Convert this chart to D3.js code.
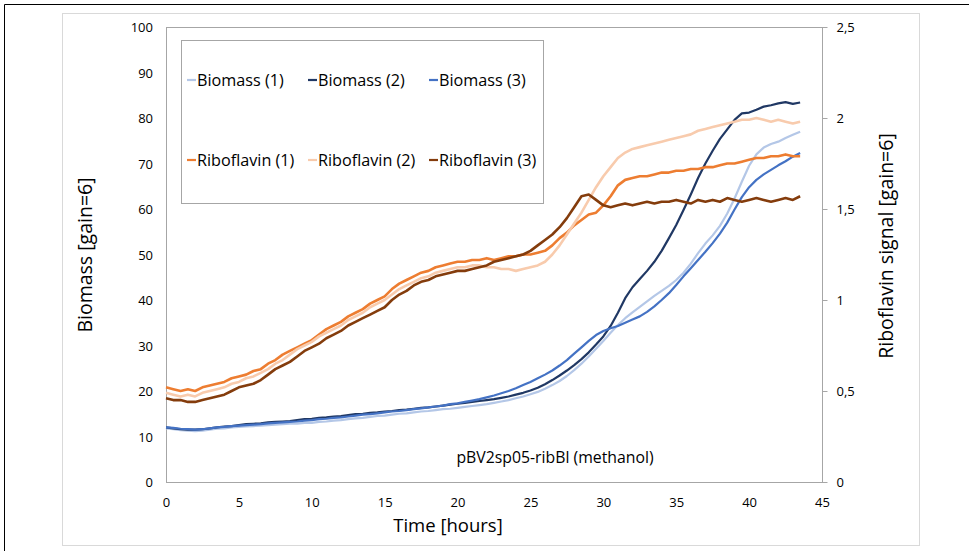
<!DOCTYPE html>
<html>
<head>
<meta charset="utf-8">
<script src="https://cdn.jsdelivr.net/npm/d3@7"></script>
<style>
  html, body { margin: 0; padding: 0; background: #fff; }
  svg { display: block; }
  text { font-family: "Open Sans", "Lato", sans-serif; fill: #000; }
</style>
</head>
<body>
<svg id="chart" width="969" height="551"></svg>
<script>
// Sampling times (hours)
const hours = [0,0.5,1,1.5,2,2.5,3,3.5,4,4.5,5,5.5,6,6.5,7,7.5,8,8.5,9,9.5,
  10,10.5,11,11.5,12,12.5,13,13.5,14,14.5,15,15.5,16,16.5,17,17.5,18,18.5,19,19.5,
  20,20.5,21,21.5,22,22.5,23,23.5,24,24.5,25,25.5,26,26.5,27,27.5,28,28.5,29,29.5,
  30,30.5,31,31.5,32,32.5,33,33.5,34,34.5,35,35.5,36,36.5,37,37.5,38,38.5,39,39.5,
  40,40.5,41,41.5,42,42.5,43,43.5];

// Biomass signal [gain=6], left axis
const biomass1 = [11.8,11.6,11.4,11.3,11.2,11.3,11.5,11.7,11.8,12.0,
  12.1,12.2,12.3,12.4,12.5,12.6,12.7,12.8,12.8,13.0,
  13.0,13.2,13.3,13.5,13.6,13.8,14.0,14.1,14.3,14.5,
  14.6,14.8,15.0,15.1,15.3,15.5,15.6,15.8,16.0,16.1,
  16.3,16.5,16.7,16.9,17.1,17.4,17.7,18.0,18.4,18.8,
  19.3,19.8,20.5,21.3,22.2,23.3,24.6,26.0,27.6,29.3,
  31.0,32.8,34.5,36.0,37.3,38.5,39.7,40.9,42.0,43.1,
  44.4,46.0,48.0,50.3,52.4,54.2,56.3,59.0,62.3,66.0,
  69.5,72.0,73.5,74.3,74.8,75.6,76.3,77.0];
const biomass2 = [12.0,11.8,11.6,11.5,11.5,11.6,11.8,12.0,12.2,12.3,
  12.5,12.7,12.8,12.9,13.1,13.2,13.3,13.4,13.6,13.8,
  13.9,14.1,14.2,14.4,14.5,14.7,14.9,15.0,15.2,15.3,
  15.5,15.6,15.8,15.9,16.1,16.3,16.4,16.6,16.8,17.0,
  17.2,17.4,17.6,17.8,18.0,18.2,18.5,18.8,19.2,19.6,
  20.1,20.7,21.5,22.4,23.4,24.5,25.7,27.0,28.5,30.2,
  32.0,34.3,37.2,40.4,42.8,44.6,46.4,48.4,50.8,53.6,
  56.5,59.8,63.2,66.8,70.0,72.8,75.4,77.5,79.6,81.0,
  81.2,81.8,82.5,82.8,83.2,83.5,83.1,83.4];
const biomass3 = [12.0,11.9,11.7,11.6,11.5,11.6,11.8,12.0,12.1,12.3,
  12.4,12.5,12.6,12.7,12.9,13.0,13.1,13.2,13.3,13.5,
  13.6,13.8,13.9,14.1,14.2,14.4,14.6,14.8,14.9,15.1,
  15.3,15.5,15.6,15.8,16.0,16.2,16.4,16.6,16.8,17.1,
  17.3,17.6,17.9,18.2,18.6,19.0,19.5,20.0,20.6,21.3,
  22.0,22.8,23.6,24.5,25.6,26.8,28.2,29.6,31.0,32.3,
  33.2,33.8,34.3,35.0,35.7,36.4,37.4,38.6,40.0,41.5,
  43.3,45.2,47.0,48.8,50.6,52.5,54.6,57.0,59.9,62.6,
  64.8,66.4,67.6,68.6,69.6,70.5,71.5,72.3];

// Riboflavin signal [gain=6], right axis
const riboflavin1 = [0.52,0.51,0.50,0.51,0.50,0.52,0.53,0.54,0.55,0.57,
  0.58,0.59,0.61,0.62,0.65,0.67,0.70,0.72,0.74,0.76,
  0.78,0.81,0.84,0.86,0.88,0.91,0.93,0.95,0.98,1.00,
  1.02,1.06,1.09,1.11,1.13,1.15,1.16,1.18,1.19,1.20,
  1.21,1.21,1.22,1.22,1.23,1.22,1.23,1.24,1.24,1.25,
  1.25,1.26,1.27,1.30,1.34,1.37,1.41,1.44,1.47,1.48,
  1.52,1.57,1.63,1.66,1.67,1.68,1.68,1.69,1.70,1.70,
  1.71,1.71,1.72,1.72,1.73,1.73,1.74,1.75,1.75,1.76,
  1.77,1.78,1.78,1.79,1.79,1.80,1.79,1.79];
const riboflavin2 = [0.49,0.48,0.47,0.48,0.47,0.49,0.50,0.51,0.52,0.54,
  0.55,0.57,0.58,0.60,0.62,0.65,0.67,0.70,0.73,0.75,
  0.77,0.80,0.82,0.84,0.86,0.89,0.91,0.93,0.96,0.98,
  1.00,1.03,1.06,1.08,1.10,1.12,1.13,1.15,1.16,1.17,
  1.18,1.18,1.19,1.19,1.18,1.18,1.17,1.17,1.16,1.17,
  1.18,1.19,1.21,1.25,1.30,1.36,1.42,1.48,1.55,1.62,
  1.68,1.73,1.78,1.81,1.83,1.84,1.85,1.86,1.87,1.88,
  1.89,1.90,1.91,1.93,1.94,1.95,1.96,1.97,1.98,1.99,
  1.99,2.00,1.99,1.98,1.99,1.98,1.97,1.98];
const riboflavin3 = [0.46,0.45,0.45,0.44,0.44,0.45,0.46,0.47,0.48,0.50,
  0.52,0.53,0.54,0.56,0.59,0.62,0.64,0.66,0.69,0.72,
  0.74,0.76,0.79,0.81,0.83,0.86,0.88,0.90,0.92,0.94,
  0.96,1.00,1.03,1.05,1.08,1.10,1.11,1.13,1.14,1.15,
  1.16,1.16,1.17,1.18,1.19,1.21,1.22,1.23,1.24,1.25,
  1.27,1.30,1.33,1.36,1.40,1.45,1.51,1.57,1.58,1.55,
  1.52,1.51,1.52,1.53,1.52,1.53,1.54,1.53,1.54,1.54,
  1.55,1.54,1.53,1.55,1.54,1.55,1.54,1.56,1.55,1.54,
  1.55,1.56,1.55,1.54,1.55,1.56,1.55,1.57];

const seriesNames = ["Biomass (1)", "Biomass (2)", "Biomass (3)",
                     "Riboflavin (1)", "Riboflavin (2)", "Riboflavin (3)"];
const seriesColors = ["#B4C7E7", "#203864", "#4472C4", "#ED7D31", "#F8CBAD", "#843C0C"];
const xTicks = [0,5,10,15,20,25,30,35,40,45];
const leftTicks = [0,10,20,30,40,50,60,70,80,90,100];
const rightTicks = [0,0.5,1,1.5,2,2.5];
const rightTickLabels = ["0","0,5","1","1,5","2","2,5"];
const annotation = "pBV2sp05-ribBl (methanol)";

const svg = d3.select("#chart");

// chart frames
svg.append("rect").attr("x", 62.5).attr("y", 13.5).attr("width", 857).attr("height", 532)
  .attr("fill", "none").attr("stroke", "#d9d9d9").attr("stroke-width", 1);
svg.append("path").attr("d", "M4.5,551 V4.5 H969").attr("fill", "none")
  .attr("stroke", "#000").attr("stroke-width", 1);

const plot = { left: 166, right: 822, top: 27, bottom: 482 };
const x = d3.scaleLinear().domain([0, 45]).range([plot.left, plot.right]);
const yL = d3.scaleLinear().domain([0, 100]).range([plot.bottom, plot.top]);
const yR = d3.scaleLinear().domain([0, 2.5]).range([plot.bottom, plot.top]);

// plot area border
svg.append("rect").attr("x", plot.left + 0.5).attr("y", plot.top + 0.5)
  .attr("width", plot.right - plot.left).attr("height", plot.bottom - plot.top)
  .attr("fill", "none").attr("stroke", "#a6a6a6").attr("stroke-width", 1);

// axes
const gx = svg.append("g").attr("transform", `translate(0,${plot.bottom})`)
  .call(d3.axisBottom(x).tickValues(xTicks).tickSize(0).tickPadding(16).tickFormat(d3.format("d")));
const gl = svg.append("g").attr("transform", `translate(${plot.left},0)`)
  .call(d3.axisLeft(yL).tickValues(leftTicks).tickSize(0).tickPadding(13));
const gr = svg.append("g").attr("transform", `translate(${plot.right + 0.5},0)`)
  .call(d3.axisRight(yR).tickValues(rightTicks).tickSize(5).tickPadding(9)
    .tickFormat((d, i) => rightTickLabels[i]));
[gx, gl, gr].forEach(g => {
  g.select(".domain").remove();
  g.selectAll("text").style("font-size", "13px").style("font-family", "'Open Sans', sans-serif").attr("fill", "#000");
  g.selectAll("line").attr("stroke", "#a6a6a6");
});
gl.selectAll("text").attr("dy", "0.35em");
gr.selectAll("text").attr("dy", "0.35em");

// axis titles
svg.append("text").attr("transform", `translate(92,255) rotate(-90)`)
  .attr("text-anchor", "middle").style("font-size", "19.5px").text("Biomass [gain=6]");
svg.append("text").attr("transform", `translate(893,246) rotate(-90)`)
  .attr("text-anchor", "middle").style("font-size", "19.5px").text("Riboflavin signal [gain=6]");
svg.append("text").attr("x", 448).attr("y", 532)
  .attr("text-anchor", "middle").style("font-size", "18.5px").text("Time [hours]");

// data series
const series = [
  { values: biomass1, y: yL, w: 2.2 }, { values: biomass2, y: yL, w: 2.2 }, { values: biomass3, y: yL, w: 2.2 },
  { values: riboflavin1, y: yR, w: 2.6 }, { values: riboflavin2, y: yR, w: 2.6 }, { values: riboflavin3, y: yR, w: 2.6 }
];
series.forEach((s, i) => {
  const line = d3.line().x((d, j) => x(hours[j])).y(d => s.y(d));
  svg.append("path").datum(s.values).attr("d", line)
    .attr("fill", "none").attr("stroke", seriesColors[i])
    .attr("stroke-width", s.w).attr("stroke-linejoin", "round");
});

// annotation
svg.append("text").attr("x", 555).attr("y", 463).attr("text-anchor", "middle")
  .style("font-size", "15.8px").text(annotation);

// legend
const legend = svg.append("g");
legend.append("rect").attr("x", 181.5).attr("y", 40.5).attr("width", 362).attr("height", 163)
  .attr("fill", "#fff").attr("stroke", "#a6a6a6");
const colX = [187, 308, 429];
const rowY = [80, 160];
seriesNames.forEach((name, i) => {
  const cx = colX[i % 3], cy = rowY[Math.floor(i / 3)];
  legend.append("line").attr("x1", cx).attr("x2", cx + 9).attr("y1", cy).attr("y2", cy)
    .attr("stroke", seriesColors[i]).attr("stroke-width", 2.2);
  legend.append("text").attr("x", cx + 10).attr("y", cy).attr("dy", "0.35em")
    .style("font-size", "16.2px").text(name);
});
</script>
</body>
</html>
